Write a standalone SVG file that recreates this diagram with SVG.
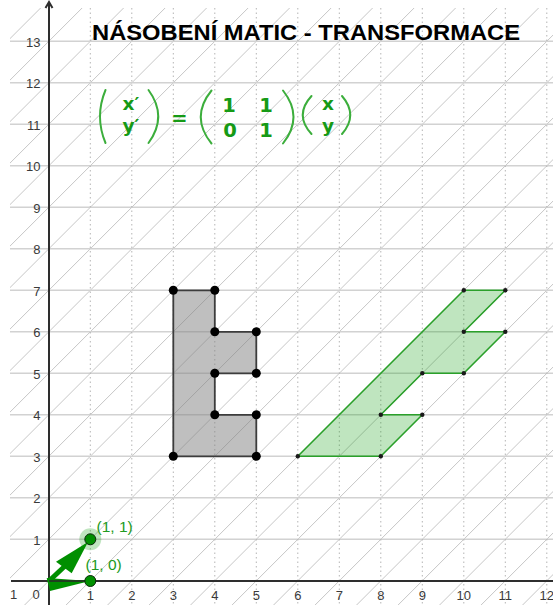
<svg xmlns="http://www.w3.org/2000/svg" width="553" height="605" viewBox="0 0 553 605">
  <defs>
    <clipPath id="view"><rect x="10" y="8" width="543" height="597"/></clipPath>
    <style>
      .hatch { stroke: #c6c6c6; stroke-width: 1; fill: none; }
      .hgrid { stroke: #d2d2d2; stroke-width: 1.5; fill: none; }
      .vgrid { stroke: #b4b4b4; stroke-width: 1; stroke-dasharray: 1.5 3; fill: none; }
      .axis { stroke: #2e2e2e; stroke-width: 2; fill: none; }
      .tick { font-family: "Liberation Sans", Arial, sans-serif; font-size: 13px; fill: #3a3a3a; }
      .title { font-family: "Liberation Sans", Arial, sans-serif; font-size: 22px; font-weight: bold; fill: #000; }
      .math { font-family: "DejaVu Sans", "Liberation Sans", sans-serif; font-size: 19.5px; font-weight: bold; fill: #169a16; }
      .var { font-size: 18.5px; }
      .paren { stroke: #3cae3c; stroke-width: 2; fill: none; stroke-linecap: round; }
      .gray-shape { fill: rgba(128,128,128,0.5); stroke: #3c3c3c; stroke-width: 1.8; stroke-linejoin: round; }
      .green-shape { fill: rgba(0,153,0,0.25); stroke: #2aa02a; stroke-width: 1.6; stroke-linejoin: round; }
      .bigdot { fill: #000; }
      .smalldot { fill: #1a1a1a; }
      .vec { fill: #008f00; stroke: none; }
      .vecline { stroke: #008f00; stroke-width: 5; fill: none; }
      .pt { fill: #009000; stroke: #0a2a0a; stroke-width: 1; }
      .ptlabel { font-family: "Liberation Sans", Arial, sans-serif; font-size: 15.5px; fill: #229a22; }
    </style>
  </defs>
  <rect x="0" y="0" width="553" height="605" fill="#ffffff"/>

  <g id="background-grid" clip-path="url(#view)">
    <path class="hatch" d="M-597.9 605L7.1 0M-556.4 605L48.6 0M-514.9 605L90.1 0M-473.4 605L131.6 0M-431.9 605L173.1 0M-390.4 605L214.6 0M-348.9 605L256.1 0M-307.4 605L297.6 0M-265.9 605L339.1 0M-224.4 605L380.6 0M-182.9 605L422.1 0M-141.4 605L463.6 0M-99.9 605L505.1 0M-58.4 605L546.6 0M-16.9 605L588.1 0M24.6 605L629.6 0M66.1 605L671.1 0M107.6 605L712.6 0M149.1 605L754.1 0M190.6 605L795.6 0M232.1 605L837.1 0M273.6 605L878.6 0M315.1 605L920.1 0M356.6 605L961.6 0M398.1 605L1003.1 0M439.6 605L1044.6 0M481.1 605L1086.1 0M522.6 605L1127.6 0"/>
    <path class="hgrid" d="M10 539.3H553M10 497.8H553M10 456.3H553M10 414.8H553M10 373.3H553M10 331.8H553M10 290.3H553M10 248.8H553M10 207.3H553M10 165.8H553M10 124.3H553M10 82.8H553M10 41.3H553"/>
    <path class="vgrid" d="M90.3 8V605M131.8 8V605M173.3 8V605M214.8 8V605M256.3 8V605M297.8 8V605M339.3 8V605M380.8 8V605M422.3 8V605M463.8 8V605M505.3 8V605M546.8 8V605"/>
  </g>

  <g id="tick-labels" class="tick">
    <g text-anchor="end">
      <text x="40.5" y="544.5">1</text>
      <text x="40.5" y="503">2</text>
      <text x="40.5" y="461.5">3</text>
      <text x="40.5" y="420">4</text>
      <text x="40.5" y="378.5">5</text>
      <text x="40.5" y="337">6</text>
      <text x="40.5" y="295.5">7</text>
      <text x="40.5" y="254">8</text>
      <text x="40.5" y="212.5">9</text>
      <text x="40.5" y="171">10</text>
      <text x="40.5" y="129.5">11</text>
      <text x="40.5" y="88">12</text>
      <text x="40.5" y="46.5">13</text>
    </g>
    <g text-anchor="middle">
      <text x="13.5" y="598.5">1</text>
      <text x="36" y="598.5">0</text>
      <text x="90.3" y="600">1</text>
      <text x="131.8" y="600">2</text>
      <text x="173.3" y="600">3</text>
      <text x="214.8" y="600">4</text>
      <text x="256.3" y="600">5</text>
      <text x="297.8" y="600">6</text>
      <text x="339.3" y="600">7</text>
      <text x="380.8" y="600">8</text>
      <text x="422.3" y="600">9</text>
      <text x="463.8" y="600">10</text>
      <text x="505.3" y="600">11</text>
      <text x="546.8" y="600">12</text>
    </g>
  </g>

  <g id="axes">
    <path class="axis" d="M11 581H553"/>
    <path class="axis" d="M49 605V2.5"/>
    <path class="axis" d="M45.5 8L49 2L52.5 8" stroke-width="1.8"/>
  </g>

  <g id="title">
    <text class="title" x="92" y="39.5" textLength="428" lengthAdjust="spacingAndGlyphs">NÁSOBENÍ MATIC - TRANSFORMACE</text>
  </g>

  <g id="equation">
    <path class="paren" d="M105.5 90Q94.5 116.5 105.5 143"/>
    <text class="math var" x="122.5" y="110">x′</text>
    <text class="math var" x="122.5" y="132">y′</text>
    <path class="paren" d="M148.5 90Q168 116.5 148.5 143"/>
    <text class="math" x="179.5" y="125" text-anchor="middle" font-size="23" font-weight="normal">=</text>
    <path class="paren" d="M211.5 90.5Q190 117 211.5 143.5"/>
    <g text-anchor="middle">
      <text class="math" x="229" y="112">1</text>
      <text class="math" x="266" y="112">1</text>
      <text class="math" x="230" y="136.7">0</text>
      <text class="math" x="266" y="136.7">1</text>
    </g>
    <path class="paren" d="M283 90.5Q304 117 283 143.5"/>
    <path class="paren" d="M311.5 96Q294 115 311.5 134"/>
    <g text-anchor="middle">
      <text class="math var" x="328" y="110.3">x</text>
      <text class="math var" x="328" y="132.3">y</text>
    </g>
    <path class="paren" d="M342 96Q358.5 115 342 134"/>
  </g>

  <g id="original-shape">
    <polygon class="gray-shape" points="173.3,456.3 173.3,290.3 214.8,290.3 214.8,331.8 256.3,331.8 256.3,373.3 214.8,373.3 214.8,414.8 256.3,414.8 256.3,456.3"/>
    <g class="bigdot">
      <circle cx="173.3" cy="290.3" r="4.5"/>
      <circle cx="214.8" cy="290.3" r="4.5"/>
      <circle cx="214.8" cy="331.8" r="4.5"/>
      <circle cx="256.3" cy="331.8" r="4.5"/>
      <circle cx="214.8" cy="373.3" r="4.5"/>
      <circle cx="256.3" cy="373.3" r="4.5"/>
      <circle cx="214.8" cy="414.8" r="4.5"/>
      <circle cx="256.3" cy="414.8" r="4.5"/>
      <circle cx="173.3" cy="456.3" r="4.5"/>
      <circle cx="256.3" cy="456.3" r="4.5"/>
    </g>
  </g>

  <g id="transformed-shape">
    <polygon class="green-shape" points="297.8,456.3 463.8,290.3 505.3,290.3 463.8,331.8 505.3,331.8 463.8,373.3 422.3,373.3 380.8,414.8 422.3,414.8 380.8,456.3"/>
    <g class="smalldot">
      <circle cx="297.8" cy="456.3" r="2.2"/>
      <circle cx="463.8" cy="290.3" r="2.2"/>
      <circle cx="505.3" cy="290.3" r="2.2"/>
      <circle cx="463.8" cy="331.8" r="2.2"/>
      <circle cx="505.3" cy="331.8" r="2.2"/>
      <circle cx="463.8" cy="373.3" r="2.2"/>
      <circle cx="422.3" cy="373.3" r="2.2"/>
      <circle cx="380.8" cy="414.8" r="2.2"/>
      <circle cx="422.3" cy="414.8" r="2.2"/>
      <circle cx="380.8" cy="456.3" r="2.2"/>
    </g>
  </g>

  <g id="connectors">
    <path class="vecline" d="M49 581L65 566"/>
    <polygon class="vec" points="88,542 56,561.7 71.7,573.3"/>
    <polygon class="vec" points="90,581 46.7,578 50,591"/>
    <path d="M49 581H88" stroke="#1f3f1f" stroke-width="2"/>
  </g>

  <g id="point-1-1">
    <circle cx="90.3" cy="539.3" r="11" fill="rgba(0,153,0,0.25)"/>
    <circle class="pt" cx="90.3" cy="539.3" r="5.5"/>
    <text class="ptlabel" x="96.5" y="531.5">(1, 1)</text>
  </g>
  <g id="point-1-0">
    <circle class="pt" cx="90.3" cy="581" r="5.5"/>
    <text class="ptlabel" x="85.5" y="570">(1, 0)</text>
  </g>
</svg>
